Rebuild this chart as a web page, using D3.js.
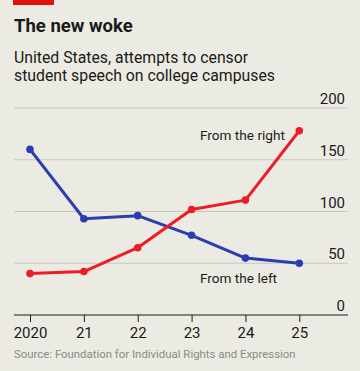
<!DOCTYPE html>
<html><head><meta charset="utf-8">
<script src="https://cdn.jsdelivr.net/npm/d3@7"></script>
<style>
html,body{margin:0;padding:0;background:#ecebe3;}
svg{display:block;font-family:Roboto,"Noto Sans",sans-serif;}
</style></head>
<body><svg id="c" width="360" height="371"></svg>
<script>
const years = [2020, 2021, 2022, 2023, 2024, 2025];
const yearLabels = ["2020", "21", "22", "23", "24", "25"];
const fromLeft = [160, 93, 96, 77, 55, 50];
const fromRight = [40, 42, 65, 102, 111, 178];
const yTicks = [0, 50, 100, 150, 200];

const svg = d3.select("#c");
svg.append("rect").attr("width",360).attr("height",371).attr("fill","#ecebe3");
svg.append("rect").attr("x",13).attr("y",0).attr("width",41).attr("height",5).attr("fill","#e3120b");
svg.append("text").attr("x",14).attr("y",32).attr("font-size",18.5).attr("font-weight",700).attr("fill","#1a1a1a").text("The new woke");
svg.append("text").attr("x",14).attr("y",63).attr("font-size",15.8).attr("fill","#1a1a1a").text("United States, attempts to censor");
svg.append("text").attr("x",14).attr("y",81).attr("font-size",15.8).attr("fill","#1a1a1a").text("student speech on college campuses");

const x = d3.scalePoint().domain(years).range([30, 299.3]);
const y = d3.scaleLinear().domain([0, 200]).range([315, 108]);

const grid = svg.append("g");
yTicks.forEach(t => {
  if (t > 0) grid.append("line").attr("x1",14).attr("x2",348).attr("y1",y(t)).attr("y2",y(t)).attr("stroke","#c9c8c0").attr("stroke-width",1);
  grid.append("text").attr("x",345).attr("y",y(t)-4).attr("text-anchor","end").attr("font-size",15).attr("fill","#1a1a1a").text(t);
});

const xAxis = d3.axisBottom(x).tickSize(7).tickFormat((d,i)=>yearLabels[i]);
const gx = svg.append("g").attr("transform","translate(0,315)").call(xAxis);
gx.select(".domain").remove();
gx.selectAll(".tick line").attr("stroke","#1a1a1a");
gx.selectAll(".tick text").attr("font-size",15).attr("fill","#1a1a1a").attr("font-family","Roboto,sans-serif").attr("dy",0).attr("y",23);
svg.append("line").attr("x1",14).attr("x2",348).attr("y1",315).attr("y2",315).attr("stroke","#1a1a1a").attr("stroke-width",1.2);

const line = d3.line().x((d,i)=>x(years[i])).y(d=>y(d));
function series(vals, col){
  svg.append("path").datum(vals).attr("d",line).attr("fill","none").attr("stroke",col).attr("stroke-width",3).attr("stroke-linejoin","round");
  svg.append("g").selectAll("circle").data(vals).join("circle").attr("cx",(d,i)=>x(years[i])).attr("cy",d=>y(d)).attr("r",3.8).attr("fill",col);
}
series(fromLeft, "#2a3eb1");
series(fromRight, "#ee1c25");

svg.append("text").attr("x",200).attr("y",140).attr("font-size",13.6).attr("fill","#1a1a1a").text("From the right");
svg.append("text").attr("x",200).attr("y",283).attr("font-size",13.6).attr("fill","#1a1a1a").text("From the left");
svg.append("text").attr("x",14).attr("y",358).attr("font-size",11.4).attr("fill","#8a8a86").text("Source: Foundation for Individual Rights and Expression");
</script></body></html>
